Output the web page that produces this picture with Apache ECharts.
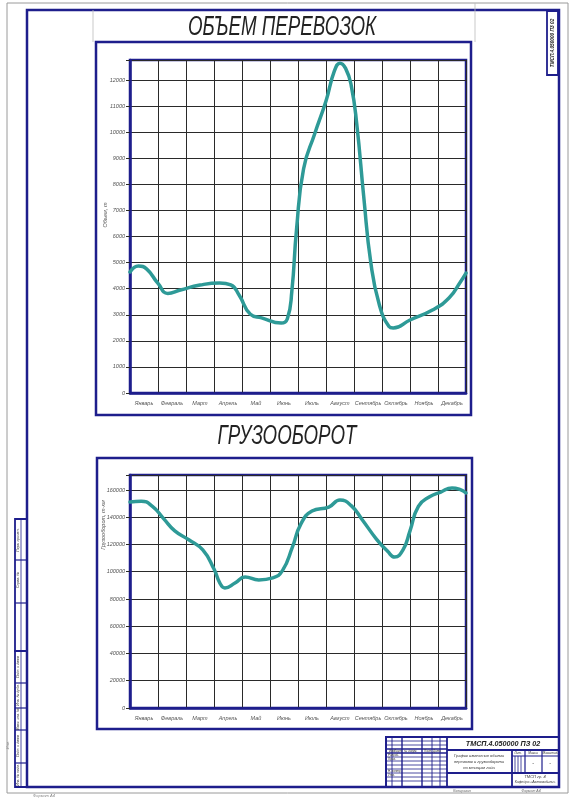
<!DOCTYPE html>
<html><head><meta charset="utf-8">
<script src="https://cdn.jsdelivr.net/npm/echarts@6/dist/echarts.min.js"></script>
<style>html,body{margin:0;padding:0;background:#fff}#c{width:570px;height:800px}</style>
</head><body><div id="c"></div>
<script>
// ---------- DATA ----------
const months = ['Январь','Февраль','Март','Апрель','Май','Июнь','Июль','Август','Сентябрь','Октябрь','Ноябрь','Декабрь'];

const volumeTicks = [0,1000,2000,3000,4000,5000,6000,7000,8000,9000,10000,11000,12000];
const volumePos = [0,0.3,0.6,1.0,1.35,1.8,2.5,3.2,3.6,3.9,4.3,4.7,5.4,5.62,5.78,5.95,6.2,6.6,7.0,7.3,7.5,7.7,7.9,8.1,8.35,8.6,8.9,9.25,9.4,10,10.8,11.4,11.8,12];
const volumeValues = [4640,4870,4750,4200,3820,3950,4140,4220,4150,3750,3020,2880,2680,2850,3900,6300,8600,9950,11200,12350,12650,12450,11800,10300,7500,5000,3400,2550,2490,2800,3180,3650,4260,4600];

const turnoverTicks = [0,20000,40000,60000,80000,100000,120000,140000,160000];
const turnoverPos = [0,0.4,0.8,1.2,1.6,2.1,2.6,3.0,3.21,3.39,3.75,4.11,4.6,5.1,5.45,5.8,6.1,6.5,7.1,7.5,7.9,8.3,8.8,9.2,9.45,9.75,10.0,10.3,10.7,11.1,11.5,11.8,12];
const turnoverValues = [151200,151800,148000,139000,130000,123500,116000,102000,91700,88100,91700,96100,94000,95500,101000,118000,135000,144500,147500,152700,148500,138000,124000,115000,110800,116000,130000,148000,155000,158500,161500,160200,157800];

// ---------- STYLE ----------
const NAVY = '#1e1e8c';
const TEAL = '#2e9a97';
const GRIDC = '#2a2a2a';
const GRAY = '#9a9a9a';
const FF = 'Liberation Sans';

function pairs(xs, ys){ return xs.map((x,i)=>[x, ys[i]]); }
function ln(x1,y1,x2,y2,c,w){ return {type:'line',shape:{x1,y1,x2,y2},style:{stroke:c||NAVY,lineWidth:w||1},silent:true}; }
function rc(x,y,w,h,c,lw){ return {type:'rect',shape:{x,y,width:w,height:h},style:{fill:'none',stroke:c||NAVY,lineWidth:lw||1},silent:true}; }
function tx(x,y,t,o){ o=o||{}; return {type:'text',x,y,rotation:o.rot||0,scaleX:o.sx||1,scaleY:o.sy||1,silent:true,
  style:{text:t,fill:o.c||'#333',fontSize:o.fs||4,fontFamily:o.ff||FF,fontStyle:o.st||'italic',fontWeight:o.fw||'normal',align:o.al||'center',verticalAlign:'middle'}}; }

const g = [];
// sheet frames
g.push(rc(7,3,561,790,GRAY,1));
g.push(rc(27,10,532,777,NAVY,2.5));
g.push(ln(93,10,93,42,'#bbb',0.8));
g.push(ln(475,3,475,42,'#bbb',0.8));
// top-right rotated stamp
g.push(rc(547,11,11,64,NAVY,1.8));
g.push(tx(552.5,43,'ТМСП.4.050000 ПЗ 02',{rot:Math.PI/2,fs:5.5,sx:0.85,fw:'bold',c:'#222'}));
// left side stamps
g.push(rc(15,519,12,132,NAVY,1.8));
g.push(ln(15,560,27,560,NAVY,1.2)); g.push(ln(15,603,27,603,NAVY,1.2)); g.push(ln(21,519,21,651,NAVY,0.8));
g.push(rc(15,651,12,136,NAVY,1.8));
[683,708,730,763].forEach(y=>g.push(ln(15,y,27,y,NAVY,1.2)));
g.push(ln(21,651,21,787,NAVY,0.8));
g.push(tx(18,540,'Перв. примен.',{rot:Math.PI/2,fs:3.5}));
g.push(tx(18,580,'Справ. №',{rot:Math.PI/2,fs:3.5}));
g.push(tx(18,667,'Подп. и дата',{rot:Math.PI/2,fs:3.5}));
g.push(tx(18,695,'Инв. № дубл.',{rot:Math.PI/2,fs:3.5}));
g.push(tx(18,719,'Взам. инв. №',{rot:Math.PI/2,fs:3.5}));
g.push(tx(18,746,'Подп. и дата',{rot:Math.PI/2,fs:3.5}));
g.push(tx(18,775,'Инв. № подл.',{rot:Math.PI/2,fs:3.5}));
g.push(tx(8,745,'Инв.',{rot:Math.PI/2,fs:4,c:'#888'}));
g.push(tx(44,796,'Формат А4',{fs:4,c:'#888'}));

// chart boxes and titles
g.push(rc(96,42,375,373,NAVY,2.5));
g.push(rc(97,458,375,271,NAVY,2.5));
g.push(tx(282,28,'ОБЪЕМ ПЕРЕВОЗОК',{fs:24,sx:0.78,sy:1.12,c:'#222'}));
g.push(tx(287,437,'ГРУЗООБОРОТ',{fs:24,sx:0.78,sy:1.12,c:'#222'}));
g.push(tx(105,215,'Объем, т',{rot:Math.PI/2,fs:5.5,c:'#555'}));
g.push(tx(103,525,'Грузооборот, т·км',{rot:Math.PI/2,fs:5.5,c:'#555'}));

// title block
g.push(rc(386,737,173,50,NAVY,2));
g.push(ln(447,737,447,787,NAVY,1.8));
g.push(ln(447,750,559,750,NAVY,1.8));
g.push(ln(447,773,559,773,NAVY,1.8));
g.push(ln(512,750,512,787,NAVY,1.8));
g.push(ln(512,756,559,756,NAVY,1));
g.push(ln(525,750,525,773,NAVY,1.2));
g.push(ln(542,750,542,773,NAVY,1.2));
g.push(ln(515,756,515,773,NAVY,0.8));
g.push(ln(518,756,518,773,NAVY,0.8));
g.push(ln(521,756,521,773,NAVY,0.8));
[392,402,422,432,440].forEach(x=>g.push(ln(x,737,x,787,NAVY,x===402||x===422?1.4:0.9)));
[741,745,749,753,757,761,765,769,773,777,781].forEach((y,i)=>g.push(ln(386,y,447,y,NAVY,(i===2||i===3)?1.6:0.8)));
g.push(tx(503,743.5,'ТМСП.4.050000 ПЗ 02',{fs:8,fw:'bold',c:'#222',sx:0.9}));
g.push(tx(479,756,'График изменения объема',{fs:4}));
g.push(tx(479,762,'перевозок и грузооборота',{fs:4}));
g.push(tx(479,768,'по месяцам года',{fs:4}));
g.push(tx(518,753,'Лит.',{fs:3.2})); g.push(tx(533,753,'Масса',{fs:3.2})); g.push(tx(550,753,'Масштаб',{fs:3.2}));
g.push(tx(533,764,'-',{fs:5})); g.push(tx(550,764,'-',{fs:5}));
g.push(tx(535,777,'ТМСП гр. 4',{fs:4}));
g.push(tx(535,782,'Кафедра «Автомобили»',{fs:3.5}));
g.push(tx(389,751,'Изм.',{fs:3,al:'left'})); g.push(tx(394,751,'Лист',{fs:3,al:'left'}));
g.push(tx(404,751,'№ докум.',{fs:3,al:'left'})); g.push(tx(424,751,'Подп.',{fs:3,al:'left'})); g.push(tx(433,751,'Дата',{fs:3,al:'left'}));
g.push(tx(388,755,'Разраб.',{fs:3,al:'left'})); g.push(tx(388,759,'Пров.',{fs:3,al:'left'}));
g.push(tx(388,771,'Н. контр.',{fs:3,al:'left'})); g.push(tx(388,775,'Утв.',{fs:3,al:'left'}));
g.push(tx(462,791,'Копировал',{fs:3.5,c:'#666'})); g.push(tx(531,791,'Формат А4',{fs:3.5,c:'#666'}));

const labelStyleY = {fontSize:5.5,color:'#555',fontStyle:'italic',fontFamily:FF,margin:5};
const labelStyleX = {fontSize:5.5,color:'#555',fontStyle:'italic',fontFamily:FF,margin:7,interval:0};

function catAxis(gi){
  return {type:'category',gridIndex:gi,data:months,boundaryGap:true,
    axisLine:{show:true,lineStyle:{color:NAVY,width:2.5}},axisTick:{show:false},
    axisLabel:labelStyleX,splitLine:{show:true,lineStyle:{color:GRIDC,width:1}}};
}
function hidX(gi){ return {type:'value',gridIndex:gi,min:0,max:12,show:false}; }
function valAxis(gi,ticks,max){
  return {type:'value',gridIndex:gi,min:ticks[0],max:max,interval:ticks[1]-ticks[0],
    axisLine:{show:true,lineStyle:{color:NAVY,width:2.5}},
    axisTick:{show:true,length:4,lineStyle:{color:GRIDC}},
    axisLabel:Object.assign({},labelStyleY,{formatter:v=>ticks.indexOf(v)>=0?String(v):''}),
    splitLine:{show:true,lineStyle:{color:GRIDC,width:1}}};
}

const option = {
  animation:false,
  backgroundColor:'#fff',
  grid:[
    {left:130,top:60,width:336,height:333,show:true,borderColor:NAVY,borderWidth:2.5,backgroundColor:'transparent'},
    {left:130,top:475,width:336,height:233,show:true,borderColor:NAVY,borderWidth:2.5,backgroundColor:'transparent'}
  ],
  xAxis:[catAxis(0),hidX(0),catAxis(1),hidX(1)],
  yAxis:[valAxis(0,volumeTicks,12770),valAxis(1,turnoverTicks,171000)],
  series:[
    {type:'line',xAxisIndex:1,yAxisIndex:0,data:pairs(volumePos,volumeValues),smooth:0.5,
      symbol:'none',clip:false,lineStyle:{color:TEAL,width:3.5,cap:'round',join:'round'},z:5},
    {type:'line',xAxisIndex:3,yAxisIndex:1,data:pairs(turnoverPos,turnoverValues),smooth:0.5,
      symbol:'none',clip:false,lineStyle:{color:TEAL,width:3.5,cap:'round',join:'round'},z:5}
  ],
  graphic:{elements:g}
};
const chart = echarts.init(document.getElementById('c'),null,{renderer:'canvas'});
chart.setOption(option);
</script>
</body></html>
